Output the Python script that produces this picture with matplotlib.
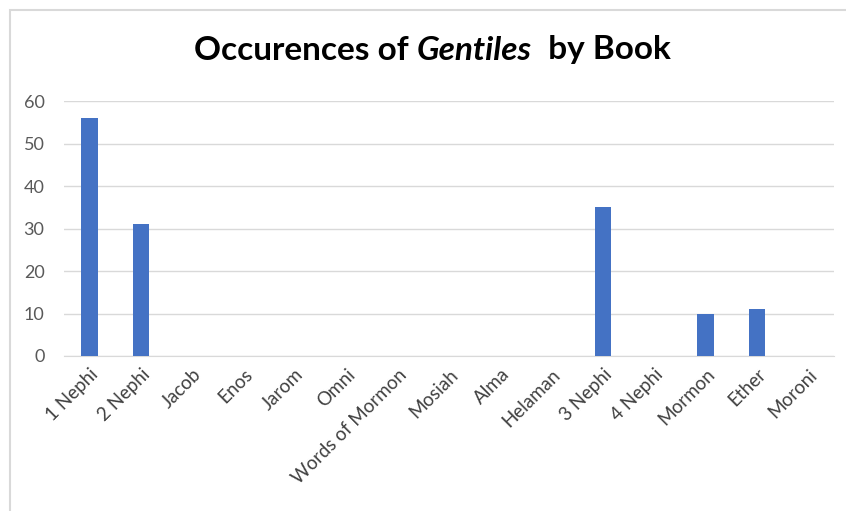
import matplotlib.pyplot as plt
from matplotlib.patches import Rectangle

books = ["1 Nephi", "2 Nephi", "Jacob", "Enos", "Jarom", "Omni", "Words of Mormon",
         "Mosiah", "Alma", "Helaman", "3 Nephi", "4 Nephi", "Mormon", "Ether", "Moroni"]
counts = [56, 31, 0, 0, 0, 0, 0, 0, 0, 0, 35, 0, 10, 11, 0]
y_ticks = [0, 10, 20, 30, 40, 50, 60]

plt.rcParams["font.family"] = ["Lato", "DejaVu Sans"]

W, H = 846, 511
fig = plt.figure(figsize=(W / 100, H / 100), dpi=100)

# chart frame border, cropped at right/bottom
fig.patches.append(Rectangle((10 / W, -0.1), 1.1, 1.1 - 10 / H,
                             transform=fig.transFigure, fill=False,
                             edgecolor="#d9d9d9", linewidth=1.5))

ax = fig.add_axes([64 / W, 1 - 356 / H, (834 - 64) / W, (356 - 101) / H])
x = range(len(books))
ax.bar(x, counts, width=0.32, color="#4472c4", zorder=3)

ax.set_xlim(-0.5, len(books) - 0.5)
ax.set_ylim(0, 60)
ax.set_yticks(y_ticks)
ax.set_xticks(list(x))
ax.set_xticklabels(books, rotation=45, ha="right", rotation_mode="anchor",
                   fontsize=13.5, color="#404040")
ax.tick_params(axis="y", labelsize=13, labelcolor="#595959", length=0, pad=14)
ax.tick_params(axis="x", length=0, pad=7)

ax.grid(axis="y", color="#d9d9d9", linewidth=1, zorder=0)
for side in ["top", "right", "left"]:
    ax.spines[side].set_visible(False)
ax.spines["bottom"].set_color("#d9d9d9")

# title with italic word, built from pieces then centred
ty = 1 - 50 / H
fs = 24
parts = [("Occurences of ", "normal"), ("Gentiles", "italic"), ("  by Book", "normal")]
fig.canvas.draw()
r = fig.canvas.get_renderer()
texts = []
xpos = 0
for s, st in parts:
    t = fig.text(xpos / W, ty, s, fontsize=fs, fontweight="bold", style=st,
                 ha="left", va="center")
    bb = t.get_window_extent(r)
    xpos = bb.x1
    texts.append(t)
total = xpos
shift = 432 - total / 2
for t in texts:
    px, py = t.get_position()
    t.set_position((px + shift / W, py))

fig.savefig("out.png", dpi=100)
